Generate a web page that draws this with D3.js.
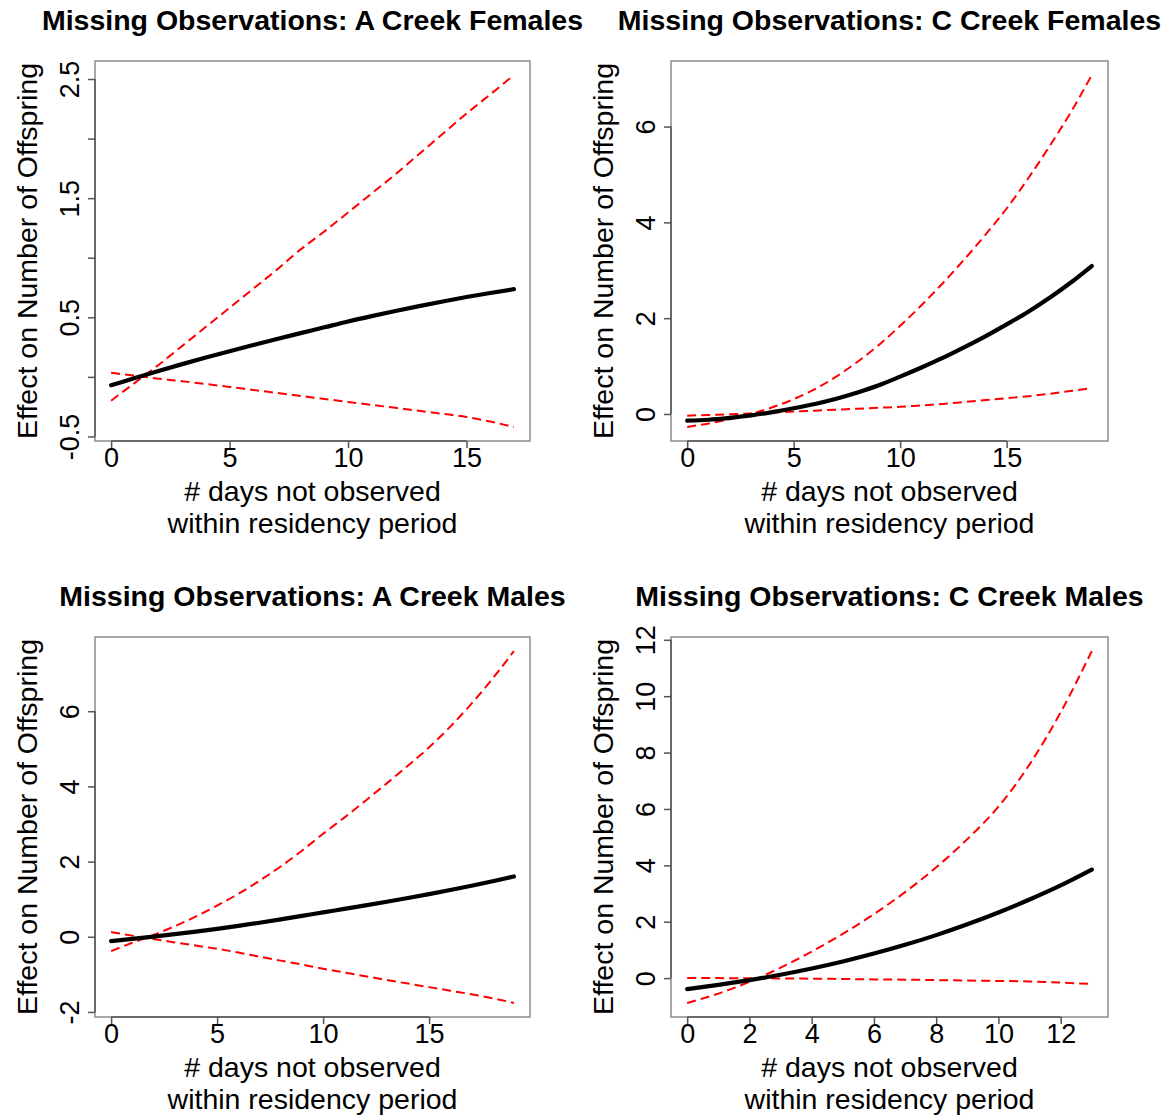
<!DOCTYPE html>
<html>
<head>
<meta charset="utf-8">
<script src="https://cdn.jsdelivr.net/npm/d3@7"></script>
<style>
  html, body { margin: 0; padding: 0; background: #fff; }
  svg { display: block; font-family: "Liberation Sans", Arial, Helvetica, sans-serif; }
</style>
</head>
<body>
<svg id="chart" width="1169" height="1118"></svg>
<script>
// ---------------- DATA ----------------
const titles = [
  "Missing Observations: A Creek Females",
  "Missing Observations: C Creek Females",
  "Missing Observations: A Creek Males",
  "Missing Observations: C Creek Males"
];
const yAxisTitle = "Effect on Number of Offspring";
const xAxisTitleLines = ["# days not observed", "within residency period"];

// Panel 1: A Creek Females
const days_AF  = [0,1,2,3,4,5,6,7,8,9,10,11,12,13,14,15,16,17];
const mean_AF  = [-0.07,-0.01,0.05,0.107,0.162,0.215,0.267,0.318,0.367,0.416,0.465,0.51,0.553,0.594,0.633,0.67,0.704,0.736];
const upper_AF = [-0.2,-0.05,0.1,0.26,0.42,0.58,0.74,0.9,1.07,1.22,1.38,1.54,1.7,1.87,2.04,2.21,2.37,2.533];
const lower_AF = [0.034,0.01,-0.015,-0.037,-0.06,-0.084,-0.11,-0.135,-0.16,-0.185,-0.21,-0.235,-0.26,-0.285,-0.31,-0.337,-0.375,-0.42];
const xTicks_AF = [0,5,10,15];
const xTickLabels_AF = ["0","5","10","15"];
const yTicks_AF = [-0.5,0,0.5,1,1.5,2,2.5];
const yTickLabels_AF = ["-0.5","","0.5","","1.5","","2.5"];

// Panel 2: C Creek Females
const days_CF  = [0,1,2,3,4,5,6,7,8,9,10,11,12,13,14,15,16,17,18,19];
const mean_CF  = [-0.14,-0.12,-0.08,-0.03,0.04,0.12,0.21,0.32,0.45,0.6,0.78,0.97,1.17,1.39,1.62,1.87,2.13,2.42,2.74,3.09];
const upper_CF = [-0.27,-0.2,-0.11,0.0,0.14,0.31,0.52,0.78,1.09,1.44,1.84,2.27,2.73,3.22,3.74,4.29,4.91,5.58,6.29,7.075];
const lower_CF = [-0.035,-0.02,-0.005,0.01,0.03,0.05,0.07,0.09,0.11,0.13,0.15,0.18,0.21,0.25,0.29,0.33,0.37,0.42,0.48,0.54];
const xTicks_CF = [0,5,10,15];
const xTickLabels_CF = ["0","5","10","15"];
const yTicks_CF = [0,2,4,6];
const yTickLabels_CF = ["0","2","4","6"];

// Panel 3: A Creek Males
const days_AM  = [0,1,2,3,4,5,6,7,8,9,10,11,12,13,14,15,16,17,18,19];
const mean_AM  = [-0.115,-0.057,0.004,0.069,0.137,0.21,0.29,0.374,0.462,0.554,0.65,0.74,0.834,0.931,1.031,1.135,1.243,1.357,1.477,1.605];
const upper_AM = [-0.38,-0.16,0.05,0.28,0.54,0.83,1.14,1.49,1.87,2.29,2.74,3.17,3.62,4.08,4.55,5.04,5.59,6.2,6.87,7.6];
const lower_AM = [0.124,0.03,-0.06,-0.15,-0.235,-0.32,-0.42,-0.53,-0.635,-0.74,-0.85,-0.95,-1.05,-1.15,-1.245,-1.34,-1.435,-1.53,-1.635,-1.76];
const xTicks_AM = [0,5,10,15];
const xTickLabels_AM = ["0","5","10","15"];
const yTicks_AM = [-2,0,2,4,6];
const yTickLabels_AM = ["-2","0","2","4","6"];

// Panel 4: C Creek Males
const days_CM  = [0,1,2,3,4,5,6,7,8,9,10,11,12,13];
const mean_CM  = [-0.39,-0.24,-0.07,0.12,0.34,0.59,0.87,1.18,1.525,1.91,2.33,2.79,3.29,3.85];
const upper_CM = [-0.88,-0.55,-0.13,0.37,0.94,1.57,2.27,3.05,3.93,4.93,6.08,7.58,9.43,11.6];
const lower_CM = [0.0,0.0,-0.005,-0.01,-0.02,-0.03,-0.045,-0.055,-0.07,-0.085,-0.1,-0.12,-0.16,-0.21];
const xTicks_CM = [0,2,4,6,8,10,12];
const xTickLabels_CM = ["0","2","4","6","8","10","12"];
const yTicks_CM = [0,2,4,6,8,10,12];
const yTickLabels_CM = ["0","2","4","6","8","10","12"];

// ---------------- LAYOUT ----------------
const boxes = [
  {x0: 95,  x1: 530,  y0: 61,  y1: 441},
  {x0: 671, x1: 1108, y0: 61,  y1: 441},
  {x0: 95,  x1: 530,  y0: 637, y1: 1017},
  {x0: 671, x1: 1108, y0: 637, y1: 1017}
];

const panels = [
  {title: titles[0], x: days_AF, mean: mean_AF, upper: upper_AF, lower: lower_AF, xt: xTicks_AF, xl: xTickLabels_AF, yt: yTicks_AF, yl: yTickLabels_AF, box: boxes[0]},
  {title: titles[1], x: days_CF, mean: mean_CF, upper: upper_CF, lower: lower_CF, xt: xTicks_CF, xl: xTickLabels_CF, yt: yTicks_CF, yl: yTickLabels_CF, box: boxes[1]},
  {title: titles[2], x: days_AM, mean: mean_AM, upper: upper_AM, lower: lower_AM, xt: xTicks_AM, xl: xTickLabels_AM, yt: yTicks_AM, yl: yTickLabels_AM, box: boxes[2]},
  {title: titles[3], x: days_CM, mean: mean_CM, upper: upper_CM, lower: lower_CM, xt: xTicks_CM, xl: xTickLabels_CM, yt: yTicks_CM, yl: yTickLabels_CM, box: boxes[3]}
];

const svg = d3.select("#chart");
svg.append("rect").attr("width", 1169).attr("height", 1118).attr("fill", "#fff");

const TICK_FONT = 27, LAB_FONT = 28.5, TITLE_FONT = 28.5;

// R-style 4% domain extension
function rRange(vals) {
  const lo = d3.min(vals), hi = d3.max(vals), pad = (hi - lo) * 0.04;
  return [lo - pad, hi + pad];
}

panels.forEach(p => {
  const b = p.box;
  const xs = d3.scaleLinear().domain(rRange(p.x)).range([b.x0, b.x1]);
  const ys = d3.scaleLinear().domain(rRange(p.mean.concat(p.upper, p.lower))).range([b.y1, b.y0]);

  const g = svg.append("g");

  // lines
  const mk = arr => d3.line().x((d, i) => xs(p.x[i])).y(d => ys(d)).curve(d3.curveMonotoneX)(arr);
  g.append("path").attr("d", mk(p.upper)).attr("fill", "none")
    .attr("stroke", "#ff0000").attr("stroke-width", 2).attr("stroke-dasharray", "9,5");
  g.append("path").attr("d", mk(p.lower)).attr("fill", "none")
    .attr("stroke", "#ff0000").attr("stroke-width", 2).attr("stroke-dasharray", "9,5");
  g.append("path").attr("d", mk(p.mean)).attr("fill", "none")
    .attr("stroke", "#000").attr("stroke-width", 4.2).attr("stroke-linecap", "round");

  // box
  g.append("rect").attr("x", b.x0).attr("y", b.y0)
    .attr("width", b.x1 - b.x0).attr("height", b.y1 - b.y0)
    .attr("fill", "none").attr("stroke", "#8c8c8c").attr("stroke-width", 1.5);

  // x axis
  const xa = g.append("g").attr("transform", `translate(0,${b.y1})`)
    .call(d3.axisBottom(xs).tickValues(p.xt).tickSize(7).tickFormat((d, i) => p.xl[i]));
  xa.select(".domain").remove();
  xa.append("line").attr("x1", xs(p.xt[0])).attr("x2", xs(p.xt[p.xt.length - 1]))
    .attr("y1", 0).attr("y2", 0).attr("stroke", "#555").attr("stroke-width", 1.5);
  xa.selectAll(".tick line").attr("stroke", "#555").attr("stroke-width", 1.5);
  xa.selectAll(".tick text").attr("y", 26).attr("dy", 0)
    .attr("font-size", TICK_FONT).attr("font-family", "Liberation Sans, Arial, sans-serif").attr("fill", "#000");

  // y axis
  const ya = g.append("g").attr("transform", `translate(${b.x0},0)`)
    .call(d3.axisLeft(ys).tickValues(p.yt).tickSize(7).tickFormat((d, i) => p.yl[i]));
  ya.select(".domain").remove();
  ya.append("line").attr("y1", ys(p.yt[0])).attr("y2", ys(p.yt[p.yt.length - 1]))
    .attr("x1", 0).attr("x2", 0).attr("stroke", "#555").attr("stroke-width", 1.5);
  ya.selectAll(".tick line").attr("stroke", "#555").attr("stroke-width", 1.5);
  ya.selectAll(".tick text").attr("x", 0).attr("y", -16).attr("dy", 0)
    .attr("transform", "rotate(-90)").attr("text-anchor", "middle")
    .attr("font-size", TICK_FONT).attr("font-family", "Liberation Sans, Arial, sans-serif").attr("fill", "#000");

  // title
  g.append("text").attr("x", (b.x0 + b.x1) / 2).attr("y", b.y0 - 31)
    .attr("text-anchor", "middle").attr("font-weight", "bold")
    .attr("font-size", TITLE_FONT).text(p.title);

  // x axis title
  xAxisTitleLines.forEach((t, i) => {
    g.append("text").attr("x", (b.x0 + b.x1) / 2).attr("y", b.y1 + 60 + i * 32)
      .attr("text-anchor", "middle").attr("font-size", LAB_FONT).text(t);
  });

  // y axis title
  g.append("text")
    .attr("transform", `translate(${b.x0 - 58},${(b.y0 + b.y1) / 2}) rotate(-90)`)
    .attr("text-anchor", "middle").attr("font-size", LAB_FONT).text(yAxisTitle);
});
</script>
</body>
</html>
